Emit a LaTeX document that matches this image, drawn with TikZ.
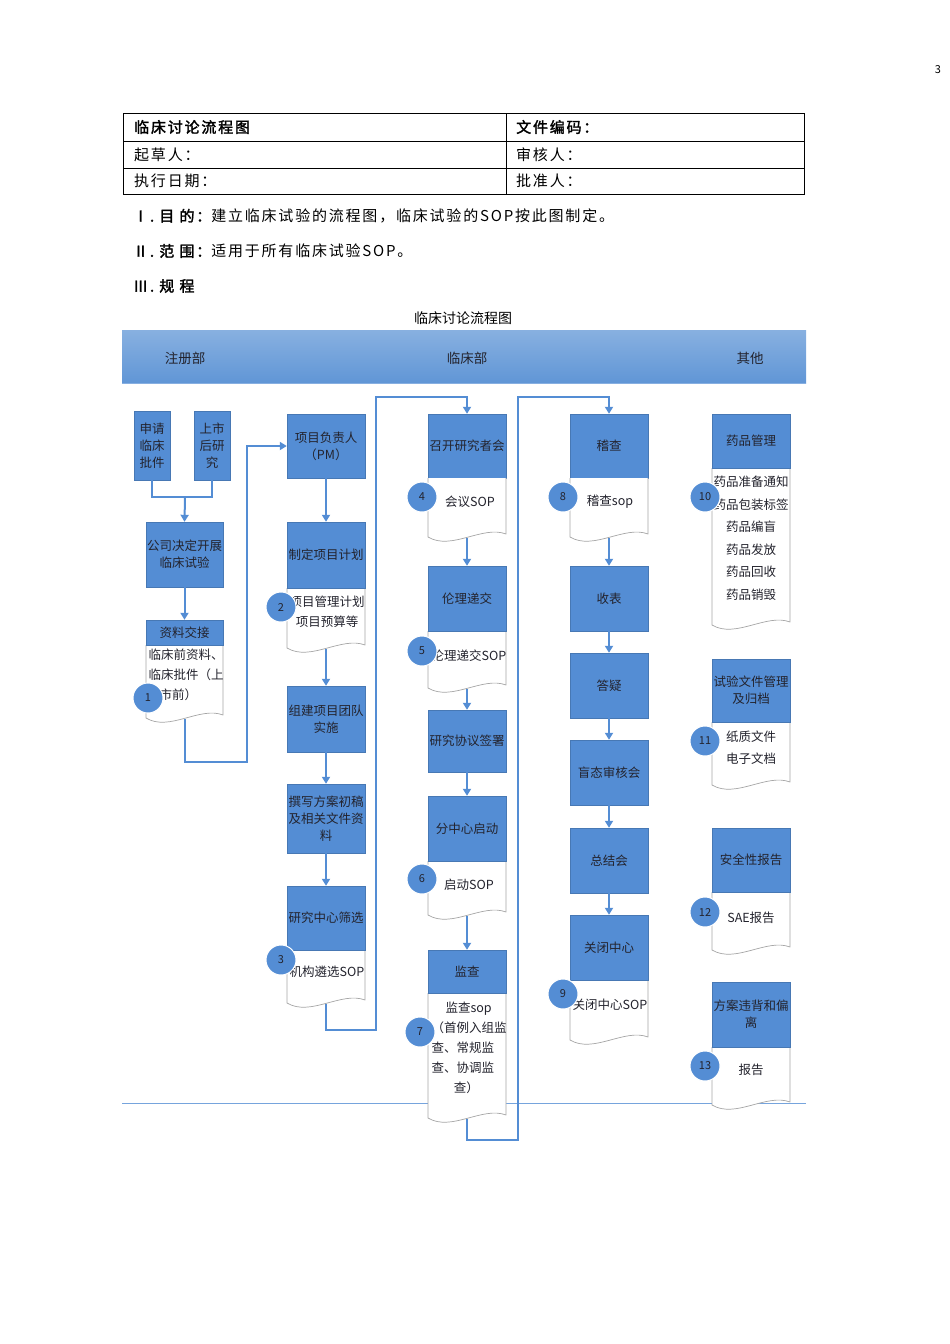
\documentclass[tikz,border=0pt]{standalone}
\usepackage{fontspec}
\setmainfont{Noto Sans CJK SC}
\newfontfamily\cjkb{Noto Sans CJK SC}[FakeBold=2,LetterSpace=12]
\newfontfamily\cjks{Noto Sans CJK SC}[LetterSpace=12]
\usetikzlibrary{arrows.meta}
\definecolor{boxblue}{RGB}{84,141,212}
\definecolor{hdrblue}{RGB}{96,150,214}
\definecolor{txt}{RGB}{35,35,45}
\tikzset{
  box/.style={fill=boxblue,draw=boxblue!85!black,line width=0.4pt,text=txt,align=center,inner sep=0pt,font=\fontsize{12.5}{17}\selectfont},
  hdr/.style={text=txt,font=\fontsize{13.5}{16}\selectfont},
  docline/.style={draw=gray!70,line width=0.7pt,fill=white},
  doctext/.style={text=txt,align=center,inner sep=0pt,font=\fontsize{12.5}{20}\selectfont},
  num/.style={circle,fill=boxblue,draw=white,line width=1pt,minimum size=30pt,inner sep=0pt,text=txt,font=\fontsize{11}{12}\selectfont},
  flow/.style={draw=boxblue,line width=2pt,-{Triangle[length=7pt,width=8pt]}},
  flowplain/.style={draw=boxblue,line width=2pt},
  tab/.style={anchor=west,inner sep=0pt,font=\cjks\fontsize{15}{18}\selectfont}
}
\newcommand\mydoc[4]{%
 \pgfmathsetmacro\da{#1+0.3*(#2-#1)}\pgfmathsetmacro\db{#1+0.7*(#2-#1)}%
 \pgfmathsetmacro\dc{#4+14}\pgfmathsetmacro\dd{#4-12}\pgfmathsetmacro\de{#4-3}%
 \draw[docline] (#1,#3) -- (#1,#4) .. controls (\da,\dc) and (\db,\dd) .. (#2,\de) -- (#2,#3);}
\newcommand\bx[6]{% name x1 x2 top bot text
 \node[box,minimum width={#3-#2},minimum height={#5-#4}] (#1) at ({(#2+#3)/2},{(#4+#5)/2}) {#6};}
\begin{document}
\begin{tikzpicture}[x=1pt,y=-1pt]
\useasboundingbox (0,0) rectangle (950,1344);
\node[font=\fontsize{11}{12}\selectfont] (pg) at (938,70) {3};
% table
\draw[line width=0.6pt] (123,113) rectangle (804,194);
\draw[line width=0.6pt] (123,141) -- (804,141) (123,168) -- (804,168) (506,113) -- (506,194);
\node[tab,font=\cjkb\fontsize{15}{18}\selectfont] (t1) at (134,127) {临床讨论流程图};
\node[tab,font=\cjkb\fontsize{15}{18}\selectfont] (t2) at (516,127) {文件编码：};
\node[tab] (t3) at (134,155) {起草人：};
\node[tab] (t4) at (516,155) {审核人：};
\node[tab] (t5) at (134,181) {执行日期：};
\node[tab] (t6) at (516,181) {批准人：};
\node[tab] (l1) at (133,216) {{\cjkb Ⅰ.\ 目\ 的：}建立临床试验的流程图，临床试验的SOP按此图制定。};
\node[tab] (l2) at (133,251) {{\cjkb Ⅱ.\ 范\ 围：}适用于所有临床试验SOP。};
\node[tab] (l3) at (133,286) {{\cjkb Ⅲ.\ 规\ 程}};
\node[font=\fontsize{14}{16}\selectfont] (cap) at (463,318) {临床讨论流程图};
% header band
\shade[top color=hdrblue!75!white,bottom color=hdrblue] (122,330) rectangle (806,383);
\draw[boxblue!70,line width=1pt] (122,383) -- (806,383);
\node[hdr] (h1) at (185,358) {注册部};
\node[hdr] (h2) at (467,358) {临床部};
\node[hdr] (h3) at (750,358) {其他};
\draw[boxblue!80,line width=1pt] (122,1103) -- (806,1103);
% ===== column 1
\bx{a1}{134}{170}{411}{480}{申请\\临床\\批件}
\bx{a2}{194}{230}{411}{480}{上市\\后研\\究}
\bx{a3}{146}{223}{522}{587}{公司决定开展\\临床试验}
\mydoc{146}{223}{645}{718}
\bx{a4}{146}{223}{620}{645}{资料交接}
\node[doctext,align=left] (a4t) at (186,675) {临床前资料、\\临床批件（上\\\ \ \ \ 市前）};
\node[num] (n1) at (148,698) {1};
\coordinate (a4b) at (185,719);
\coordinate (j1) at (185,497);
\draw[flowplain] (a1.south) |- (j1) -| (a2.south);
\draw[flow] (j1) -- (a3.north);
\draw[flow] (a3.south) -- (a4.north);
% ===== column 2
\bx{b1}{287}{365}{414}{478}{项目负责人\\（PM）}
\draw[flow] (a4b) |- (247,762) |- (b1.west);
\mydoc{287}{365}{588}{648}
\bx{b2}{287}{365}{522}{588}{制定项目计划}
\node[doctext] (b2t) at (327,612) {项目管理计划\\项目预算等};
\node[num] (n2) at (281,607) {2};
\coordinate (b2b) at (326,649);
\bx{b3}{287}{365}{686}{752}{组建项目团队\\实施}
\bx{b4}{287}{365}{784}{853}{撰写方案初稿\\及相关文件资\\料}
\mydoc{287}{365}{950}{1003}
\bx{b5}{287}{365}{886}{950}{研究中心筛选}
\node[doctext] (b5t) at (327,972) {机构遴选SOP};
\node[num] (n3) at (281,960) {3};
\coordinate (b5b) at (326,1004);
\draw[flow] (b1.south) -- (b2.north);
\draw[flow] (b2b) -- (b3.north);
\draw[flow] (b3.south) -- (b4.north);
\draw[flow] (b4.south) -- (b5.north);
% ===== column 3
\bx{c1}{428}{506}{414}{478}{召开研究者会}
\draw[flow] (b5b) |- (376,1030) |- (467,397) -- (c1.north);
\mydoc{428}{506}{478}{537}
\node[doctext] (c1t) at (470,502) {会议SOP};
\node[num] (n4) at (422,497) {4};
\coordinate (c1b) at (467,538);
\mydoc{428}{506}{631}{688}
\bx{c2}{428}{506}{566}{631}{伦理递交}
\node[doctext] (c2t) at (469,656) {伦理递交SOP};
\node[num] (n5) at (422,651) {5};
\coordinate (c2b) at (467,689);
\bx{c3}{428}{506}{710}{772}{研究协议签署}
\mydoc{428}{506}{861}{915}
\bx{c4}{428}{506}{796}{861}{分中心启动}
\node[doctext] (c4t) at (469,885) {启动SOP};
\node[num] (n6) at (422,879) {6};
\coordinate (c4b) at (467,916);
\mydoc{428}{506}{993}{1118}
\bx{c5}{428}{506}{950}{993}{监查}
\node[doctext,align=left] (c5t) at (469,1048) {\ \ \ \ \ 监查sop\\（首例入组监\\查、常规监\\查、协调监\\\ \ \ \ \ \ \ \ 查）};
\node[num] (n7) at (420,1032) {7};
\coordinate (c5b) at (467,1119);
\draw[flow] (c1b) -- (c2.north);
\draw[flow] (c2b) -- (c3.north);
\draw[flow] (c3.south) -- (c4.north);
\draw[flow] (c4b) -- (c5.north);
% ===== column 4
\bx{d1}{570}{648}{414}{478}{稽查}
\draw[flow] (c5b) |- (518,1140) |- (609,397) -- (d1.north);
\mydoc{570}{648}{478}{537}
\node[doctext] (d1t) at (610,502) {稽查sop};
\node[num] (n8) at (563,497) {8};
\coordinate (d1b) at (609,538);
\bx{d2}{570}{648}{566}{631}{收表}
\bx{d3}{570}{648}{653}{718}{答疑}
\bx{d4}{570}{648}{740}{805}{盲态审核会}
\bx{d5}{570}{648}{828}{893}{总结会}
\mydoc{570}{648}{980}{1040}
\bx{d6}{570}{648}{915}{980}{关闭中心}
\node[doctext] (d6t) at (610,1005) {关闭中心SOP};
\node[num] (n9) at (563,994) {9};
\draw[flow] (d1b) -- (d2.north);
\draw[flow] (d2.south) -- (d3.north);
\draw[flow] (d3.south) -- (d4.north);
\draw[flow] (d4.south) -- (d5.north);
\draw[flow] (d5.south) -- (d6.north);
% ===== column 5
\mydoc{712}{790}{468}{625}
\bx{e1}{712}{790}{414}{468}{药品管理}
\node[doctext,font=\fontsize{12.5}{22.5}\selectfont] (e1t) at (751,538) {药品准备通知\\药品包装标签\\药品编盲\\药品发放\\药品回收\\药品销毁};
\node[num] (n10) at (705,497) {10};
\mydoc{712}{790}{722}{785}
\bx{e2}{712}{790}{659}{722}{试验文件管理\\及归档}
\node[doctext,font=\fontsize{12.5}{22}\selectfont] (e2t) at (751,748) {纸质文件\\电子文档};
\node[num] (n11) at (705,741) {11};
\mydoc{712}{790}{892}{950}
\bx{e3}{712}{790}{828}{892}{安全性报告}
\node[doctext] (e3t) at (751,918) {SAE报告};
\node[num] (n12) at (705,912) {12};
\mydoc{712}{790}{1047}{1105}
\bx{e4}{712}{790}{982}{1047}{方案违背和偏\\离}
\node[doctext] (e4t) at (751,1070) {报告};
\node[num] (n13) at (705,1066) {13};
\end{tikzpicture}
\end{document}
